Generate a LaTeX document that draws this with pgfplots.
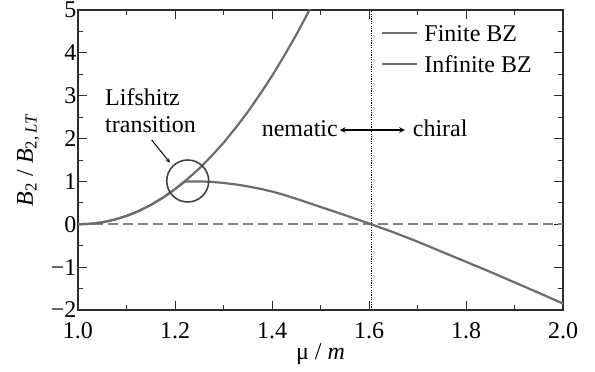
\documentclass[border=0pt]{standalone}
\usepackage{fontspec}
\setmainfont{Liberation Serif}
\usepackage{pgfplots}
\pgfplotsset{compat=1.18}
\newcommand{\bigf}{\fontsize{24bp}{28bp}\selectfont}
\definecolor{curve}{RGB}{108,108,108}
\definecolor{frame}{RGB}{45,45,45}
\definecolor{dashc}{RGB}{130,130,130}
\begin{document}
\begin{tikzpicture}[font=\bigf]
\begin{axis}[
  name=ax,
  scale only axis, width=485bp, height=300bp,
  xmin=1, xmax=2, ymin=-2, ymax=5,
  axis line style={draw=frame, line width=1.2bp},
  xtick={1,1.2,1.4,1.6,1.8,2}, xticklabels={1.0,1.2,1.4,1.6,1.8,2.0},
  ytick={-2,-1,0,1,2,3,4,5}, yticklabels={−2,−1,0,1,2,3,4,5},
  minor x tick num=1, minor y tick num=1,
  tick align=inside, xtick pos=both, ytick pos=both,
  major tick length=9bp, minor tick length=5bp,
  every tick/.style={frame, line width=1bp},
  every tick label/.append style={font=\bigf},
  xticklabel style={anchor=base, yshift=-28bp},
  yticklabel style={anchor=east, xshift=2bp},
  xlabel={μ / \textit{m}},
  ylabel={\textit{B}\textsubscript{2} / \textit{B}\textsubscript{2,\,\textit{LT}}},
  xlabel style={at={(axis description cs:0.5,-0.165)}, anchor=base, font=\bigf},
  ylabel style={at={(axis description cs:-0.093,0.5)}, anchor=base, rotate=0, font=\bigf},
  legend style={draw=none, fill=none, at={(axis description cs:0.6186,0.872)}, anchor=west,
    font=\bigf, nodes={text height=17bp, text depth=0bp, inner sep=1bp}, row sep=12bp,
    /tikz/every odd column/.append style={column sep=5bp}},
  legend cell align=left,
  legend image code/.code={\draw[#1] (0bp,0bp) -- (35bp,0bp);},
  clip=true,
]
\addplot[forget plot, dashc, line width=2bp, dash pattern=on 10bp off 5bp] coordinates {(1,0) (2,0)};
\addplot[forget plot, black, line width=1bp, dash pattern=on 1.2bp off 1.2bp] coordinates {(1.605,-2) (1.605,5)};
\addplot[curve, line width=2.2bp] coordinates {
(1.000,0) (1.025,0.011) (1.05,0.046) (1.075,0.107) (1.1,0.194) (1.125,0.308) (1.15,0.45) (1.175,0.62) (1.2,0.82)
(1.221,1.0) (1.25,1.0) (1.275,0.99) (1.3,0.965) (1.325,0.93) (1.35,0.885) (1.375,0.83) (1.4,0.765) (1.425,0.685)
(1.45,0.595) (1.5,0.405) (1.55,0.215) (1.6,0.02) (1.65,-0.185) (1.7,-0.405) (1.75,-0.64) (1.8,-0.875)
(1.85,-1.11) (1.9,-1.355) (1.95,-1.60) (2.0,-1.85)};
\addlegendentry{Finite BZ}
\addplot[curve, line width=2.2bp] coordinates {
(1.000,0) (1.025,0.011) (1.05,0.046) (1.075,0.107) (1.1,0.194) (1.125,0.308) (1.15,0.45) (1.175,0.62) (1.2,0.82)
(1.225,1.05) (1.25,1.30) (1.275,1.59) (1.3,1.90) (1.325,2.25) (1.35,2.62) (1.375,3.03) (1.4,3.46) (1.425,3.93)
(1.45,4.42) (1.475,4.95) (1.5,5.5)};
\addlegendentry{Infinite BZ}
\draw[frame!90, line width=1.6bp] (axis cs:1.2262,1.01) circle[radius=21bp];
\draw[black, line width=1bp, -stealth] (axis cs:1.1519,1.967) -- (axis cs:1.1897,1.437);
\node[anchor=base west, inner sep=0pt, font=\bigf] at (axis cs:1.0557,2.783) {Lifshitz};
\node[anchor=base west, inner sep=0pt, font=\bigf] at (axis cs:1.0557,2.153) {transition};
\node[anchor=base east, inner sep=0pt, font=\bigf] at (axis cs:1.536,2.06) {nematic};
\node[anchor=base west, inner sep=0pt, font=\bigf] at (axis cs:1.690,2.06) {chiral};
\draw[black, line width=1.5bp, stealth-stealth] (axis cs:1.540,2.2) -- (axis cs:1.674,2.2);
\end{axis}
\pgfresetboundingbox
\path ([shift={(-78bp,-62bp)}]ax.south west) rectangle ([shift={(32bp,10bp)}]ax.north east);
\end{tikzpicture}
\end{document}
